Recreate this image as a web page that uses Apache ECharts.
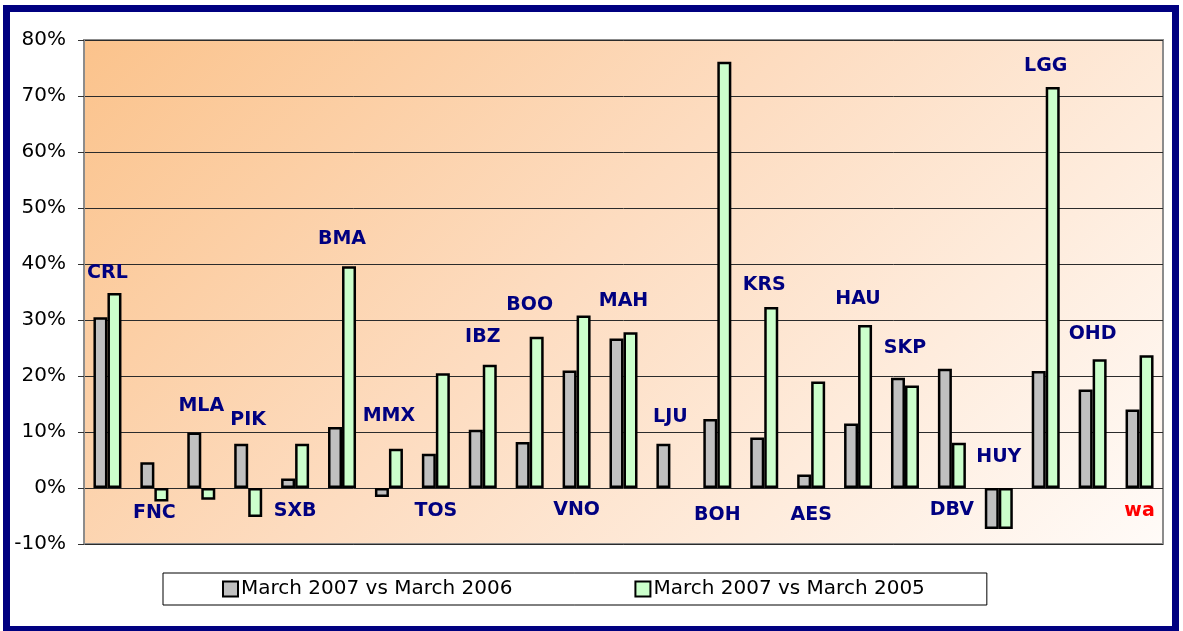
<!DOCTYPE html>
<html>
<head>
<meta charset="utf-8">
<script src="https://cdn.jsdelivr.net/npm/echarts@6/dist/echarts.min.js"></script>
<style>
  html, body { margin: 0; padding: 0; background: #fff; }
  #chart { width: 1183px; height: 631px; }
</style>
</head>
<body>
<div id="chart"></div>
<script>
// airport codes
const categories = ["CRL", "FNC", "MLA", "PIK", "SXB", "BMA", "MMX", "TOS", "IBZ", "BOO", "VNO", "MAH",
  "LJU", "BOH", "KRS", "AES", "HAU", "SKP", "DBV", "HUY", "LGG", "OHD", "wa"];
// growth in %
const vs2006 = [30.5, 4.6, 9.9, 7.9, 1.7, 10.9, -1.6, 6.1, 10.4, 8.2, 21.0, 26.7,
  7.9, 12.3, 9.0, 2.4, 11.5, 19.7, 21.3, -7.3, 20.9, 17.6, 14.0];
const vs2005 = [34.8, -2.4, -2.1, -5.2, 7.9, 39.6, 7.0, 20.5, 22.0, 27.0, 30.8, 27.8,
  null, 76.1, 32.3, 19.0, 29.1, 18.3, 8.1, -7.3, 71.6, 23.0, 23.7];
// where each code label sits (value on the y axis)
const labelAt = [38.4, -4.5, 14.7, 12.2, -4.1, 44.5, 12.8, -4.2, 27.0, 32.7, -4.0, 33.3,
  12.7, -4.8, 36.3, -4.8, 33.7, 24.9, -3.9, 5.6, 75.3, 27.4, -4.2];
const seriesNames = ["March 2007 vs March 2006", "March 2007 vs March 2005"];
const yTicks = [-10, 0, 10, 20, 30, 40, 50, 60, 70, 80];

const chart = echarts.init(document.getElementById("chart"));

let labelData = [];
for (let i in categories) {
  labelData.push({
    value: [categories[i], labelAt[i]],
    name: categories[i],
    label: { color: categories[i] === "wa" ? "#ff0000" : "#000080" },
  });
}

let option = {
  animation: false,
  graphic: [
    {
      type: "rect",
      shape: { x: 6.5, y: 8.5, width: 1169, height: 621 },
      style: { fill: "none", stroke: "#000080", lineWidth: 7 },
      z: 100,
    },
  ],
  grid: {
    left: 84,
    right: 20,
    top: 40,
    bottom: 87,
    show: true,
    borderColor: "#8c8c8c",
    borderWidth: 2,
    backgroundColor: new echarts.graphic.LinearGradient(84, 40, 876, 832, [
      { offset: 0, color: "#fbc38c" },
      { offset: 0.45, color: "#fddcc0" },
      { offset: 1, color: "#fffbf8" },
    ], true),
  },
  legend: {
    data: seriesNames,
    left: 163,
    top: 573,
    padding: [6, 62, 6, 59],
    itemGap: 122,
    itemWidth: 15,
    itemHeight: 15,
    borderColor: "#000",
    borderWidth: 1,
    backgroundColor: "#fff",
    icon: "rect",
    textStyle: { fontFamily: "DejaVu Sans", fontSize: 20, color: "#000", padding: [0, 0, 0, -2] },
  },
  xAxis: {
    type: "category",
    data: categories,
    axisLine: { show: false },
    axisTick: { show: false },
    axisLabel: { show: false },
  },
  yAxis: {
    type: "value",
    min: yTicks[0],
    max: yTicks[yTicks.length - 1],
    interval: 10,
    axisLine: { show: true, lineStyle: { color: "#8c8c8c", width: 2 } },
    axisTick: { show: true, length: 6, lineStyle: { color: "#333" } },
    axisLabel: {
      formatter: "{value}%",
      fontFamily: "DejaVu Sans",
      fontSize: 20,
      color: "#000",
      margin: 18,
    },
    splitLine: { lineStyle: { color: "#2b2b2b", width: 1 } },
  },
  series: [
    {
      name: seriesNames[0],
      type: "bar",
      data: vs2006,
      barWidth: 14,
      barGap: "0%",
      itemStyle: { color: "#c0c0c0", borderColor: "#000", borderWidth: 2.5 },
    },
    {
      name: seriesNames[1],
      type: "bar",
      data: vs2005,
      barWidth: 14,
      barGap: "0%",
      itemStyle: { color: "#ccffcc", borderColor: "#000", borderWidth: 2.5 },
    },
    {
      name: "codes",
      type: "scatter",
      data: labelData,
      symbolSize: 1,
      itemStyle: { color: "rgba(0,0,0,0)" },
      silent: true,
      z: 10,
      label: {
        show: true,
        position: "inside",
        formatter: "{b}",
        fontFamily: "DejaVu Sans",
        fontWeight: "bold",
        fontSize: 19,
        textBorderWidth: 0,
        opacity: 1,
      },
    },
  ],
};
chart.setOption(option);
</script>
</body>
</html>
